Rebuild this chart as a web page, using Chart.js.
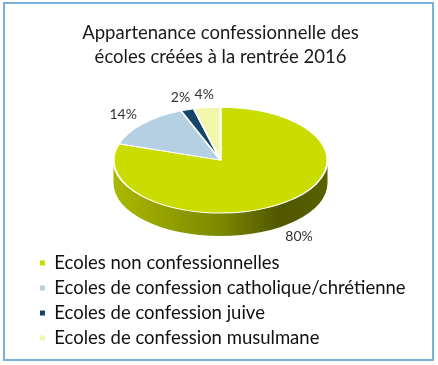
<!DOCTYPE html>
<html lang="fr">
<head>
<meta charset="utf-8">
<title>Appartenance confessionnelle des écoles créées à la rentrée 2016</title>
<script src="https://cdn.jsdelivr.net/npm/chart.js@4.4.1/dist/chart.umd.min.js"></script>
<style>
  html, body { margin: 0; padding: 0; background: #fff; }
  #wrap { position: relative; width: 438px; height: 365px; }
  #wrap canvas { position: absolute; left: 0; top: 0; }
  /* cadre bleu autour du graphique */
  #cadre { position: absolute; left: 3px; top: 2px; width: 427px; height: 355px;
           border: 2px solid #7aaedb; pointer-events: none; }
</style>
</head>
<body>
<div id="wrap">
  <canvas id="camembert" width="438" height="365"></canvas>
  <div id="cadre"></div>
</div>
<script>
// Données
const titre = ['Appartenance confessionnelle des', 'écoles créées à la rentrée 2016'];
const categories = [
    'Ecoles non confessionnelles',
    'Ecoles de confession catholique/chrétienne',
    'Ecoles de confession juive',
    'Ecoles de confession musulmane'
];
const parts = [80, 14, 2, 4];
const couleurs = ['#cadc00', '#b4d0e2', '#134667', '#f1f6ab'];

const POLICE = 'Lato, "Open Sans", sans-serif';
const APLATI = 0.495;     // rapport hauteur / largeur de l'ellipse
const EPAISSEUR = 23;     // épaisseur du flanc en pixels

function assombrir(hex, f) {
    const n = parseInt(hex.slice(1), 16);
    const r = Math.round(((n >> 16) & 255) * f);
    const g = Math.round(((n >> 8) & 255) * f);
    const b = Math.round((n & 255) * f);
    return `rgb(${r}, ${g}, ${b})`;
}

// Plugin : camembert aplati avec flanc (effet 3D) + étiquettes en %
const camembert3D = {
    id: 'camembert3D',
    beforeDatasetsDraw(chart) {
        const ctx = chart.ctx;
        const arcs = chart.getDatasetMeta(0).data;
        if (!arcs.length) return;
        const cx = arcs[0].x, cy = arcs[0].y, r = arcs[0].outerRadius;
        const ry = r * APLATI;

        // Flanc : seulement la moitié avant (angles 0 à PI)
        arcs.forEach((arc, i) => {
            const a1 = Math.max(arc.startAngle, 0);
            const a2 = Math.min(arc.endAngle, Math.PI);
            if (a2 <= a1) return;
            const grad = ctx.createLinearGradient(cx - r, 0, cx + r, 0);
            grad.addColorStop(0, assombrir(couleurs[i], 0.84));
            grad.addColorStop(0.5, assombrir(couleurs[i], 0.62));
            grad.addColorStop(0.78, assombrir(couleurs[i], 0.39));
            grad.addColorStop(1, assombrir(couleurs[i], 0.44));
            ctx.save();
            ctx.beginPath();
            ctx.ellipse(cx, cy, r, ry, 0, a1, a2);
            ctx.ellipse(cx, cy + EPAISSEUR, r, ry, 0, a2, a1, true);
            ctx.closePath();
            ctx.fillStyle = grad;
            ctx.fill();
            ctx.restore();
        });

        // Le dessus du camembert est écrasé verticalement
        ctx.save();
        ctx.translate(cx, cy);
        ctx.scale(1, APLATI);
        ctx.translate(-cx, -cy);
    },
    afterDatasetsDraw(chart) {
        const ctx = chart.ctx;
        const arcs = chart.getDatasetMeta(0).data;
        if (!arcs.length) return;
        ctx.restore();

        const cx = arcs[0].x, cy = arcs[0].y, r = arcs[0].outerRadius;
        const ry = r * APLATI;
        ctx.save();
        ctx.font = '14px ' + POLICE;
        ctx.fillStyle = '#333';
        ctx.textAlign = 'center';
        ctx.textBaseline = 'middle';
        arcs.forEach((arc, i) => {
            const a = (arc.startAngle + arc.endAngle) / 2;
            const cos = Math.cos(a), sin = Math.sin(a);
            const txt = parts[i] + '%';
            const w = ctx.measureText(txt).width, h = 14;
            const x = cx + r * 1.12 * cos + (w / 2) * cos;
            const y = cy + ry * 1.12 * sin + (h / 2) * sin + (sin > 0 ? EPAISSEUR : 0);
            ctx.fillText(txt, x, y);
        });
        ctx.restore();
    }
};

new Chart(document.getElementById('camembert'), {
    type: 'pie',
    data: {
        labels: categories,
        datasets: [{
            data: parts,
            backgroundColor: couleurs,
            borderColor: '#ffffff',
            borderWidth: 2,
            radius: 107
        }]
    },
    options: {
        responsive: false,
        animation: false,
        layout: {
            padding: { top: 11, left: 33.5, right: 30.5, bottom: 7.75 }
        },
        plugins: {
            title: {
                display: true,
                text: titre,
                color: '#1a1a1a',
                font: { family: POLICE, size: 18.5, weight: 'normal', lineHeight: 1.297 },
                padding: { top: 10, bottom: 4 }
            },
            legend: {
                position: 'bottom',
                align: 'start',
                labels: {
                    color: '#111',
                    boxWidth: 5,
                    boxHeight: 5,
                    padding: 6.5,
                    font: { family: POLICE, size: 18.5 },
                    generateLabels(chart) {
                        const items = Chart.overrides.pie.plugins.legend.labels.generateLabels(chart);
                        items.forEach(it => { it.lineWidth = 0; it.strokeStyle = 'rgba(0,0,0,0)'; });
                        return items;
                    }
                }
            },
            tooltip: { enabled: false }
        }
    },
    plugins: [camembert3D]
});
</script>
</body>
</html>
